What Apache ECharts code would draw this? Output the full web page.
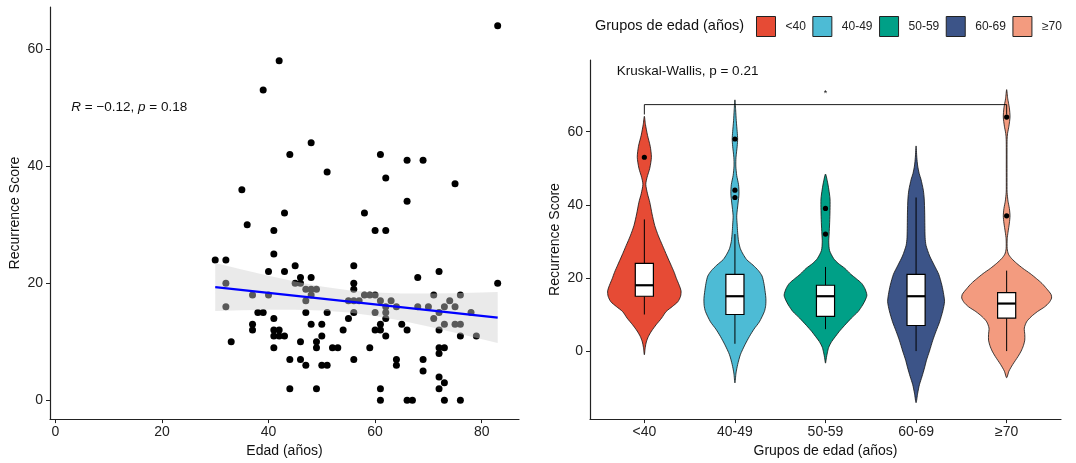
<!DOCTYPE html>
<html><head><meta charset="utf-8">
<script src="https://cdn.jsdelivr.net/npm/echarts@6/dist/echarts.min.js"></script>
<style>html,body{margin:0;padding:0;background:#fff}#c{width:1076px;height:463px}</style>
</head><body><div id="c"></div>
<script>
const FONT = '"Liberation Sans", Arial, Helvetica, sans-serif';

// ---------- Left panel: scatter (age vs score) ----------
const ages = [83,42,39,48,44,61,66,69,51,62,75,35,66,43,58,36,41,60,62,41,30,32,45,56,40,43,72,46,48,68,
  32,45,46,56,83,47,48,49,56,37,40,48,58,59,60,71,76,47,55,56,57,61,63,74,32,62,64,68,70,73,75,
  38,39,47,51,56,60,62,72,78,41,55,62,71,37,48,50,61,65,73,75,76,37,41,42,54,60,61,66,72,
  41,42,43,50,62,76,79,33,46,49,41,49,52,53,59,72,73,72,44,46,56,64,69,47,50,51,64,69,72,73,
  44,49,61,72,61,66,67,73,76];
const scores = [64,58,53,44,42,42,41,41,39,38,37,36,34,32,32,30,29,29,29,25,24,24,23,23,22,22,22,21,21,21,
  20,20,20,20,20,19,19,19,19,18,18,18,18,18,18,18,18,17,17,17,17,17,17,17,16,16,16,16,16,16,16,
  15,15,15,15,15,15,15,15,15,14,14,14,14,13,13,13,13,13,13,13,13,12,12,12,12,12,12,12,12,
  11,11,11,11,11,11,11,10,10,10,9,9,9,9,9,9,9,8,7,7,7,7,7,6,6,6,6,5,4,3,
  2,2,2,2,0,0,0,0,0];
const fitAge = [30, 83];
const fitScore = [19.35, 14.15];
const bandAge = [30,35,40,45,50,55,60,65,70,75,83];
const bandLower = [15.25,15.38,15.46,15.46,15.34,15.0,14.41,13.59,12.62,11.57,9.8];
const bandUpper = [23.45,22.34,21.28,20.3,19.44,18.8,18.41,18.25,18.24,18.31,18.5];
const leftXTicks = [0,20,40,60,80];
const leftYTicks = [0,20,40,60];

// ---------- Right panel: violins ----------
const groups = ['<40','40-49','50-59','60-69','\u226570'];
const groupColors = ['#E64B35','#4DBBD5','#00A087','#3C5488','#F39B7F'];
// violin outlines: [score, half width in category units]
const violin1 = [[64.2,0],[62,0.012],[59,0.035],[56,0.065],[53,0.078],[50,0.06],[47.5,0.03],[45.6,0.016],[43,0.035],[40.7,0.06],[37.5,0.085],[34.3,0.115],[31.5,0.155],[28.9,0.2],[26,0.25],[23.5,0.295],[21.5,0.33],[19.8,0.355],[18,0.385],[16.5,0.405],[15,0.4],[13.5,0.37],[12.2,0.31],[10.8,0.24],[9,0.19],[7.2,0.13],[5.5,0.08],[4,0.045],[2.5,0.022],[1,0.01],[-1,0]];
const violin2 = [[68.7,0],[66,0.008],[63,0.015],[60,0.025],[58,0.03],[56,0.025],[53,0.012],[50.6,0.01],[48,0.02],[45.5,0.04],[43,0.045],[40.5,0.035],[37,0.02],[34.5,0.025],[32.5,0.03],[30,0.04],[28,0.06],[26.5,0.09],[25,0.13],[23.5,0.2],[22,0.26],[20.5,0.3],[18.5,0.32],[16,0.335],[14.4,0.342],[12.5,0.34],[10.8,0.325],[8,0.27],[6,0.21],[4,0.16],[1.7,0.11],[-1,0.06],[-3.7,0.03],[-6,0.012],[-8.7,0]];
const violin3 = [[48.4,0],[46.5,0.02],[44.3,0.036],[41.6,0.05],[38.5,0.05],[35.2,0.046],[32,0.04],[29.8,0.036],[27.5,0.045],[25.3,0.09],[24,0.14],[22.6,0.215],[21,0.28],[19.8,0.34],[18.5,0.4],[17.1,0.435],[15.3,0.457],[14,0.44],[12.6,0.41],[10.8,0.36],[9,0.285],[7,0.21],[5.3,0.15],[4,0.11],[2.6,0.068],[1,0.035],[-0.5,0.02],[-1.8,0.01],[-3.3,0]];
const violin4 = [[56.1,0],[53,0.008],[50.6,0.018],[48.5,0.035],[47,0.054],[44,0.08],[41.6,0.09],[38,0.095],[34.3,0.097],[31,0.1],[28.9,0.11],[26,0.15],[23.5,0.2],[21,0.25],[18,0.285],[15.5,0.305],[13.5,0.314],[11,0.295],[8,0.26],[5.4,0.22],[3,0.185],[0,0.148],[-2.5,0.115],[-4.6,0.093],[-7,0.065],[-9.2,0.037],[-11.5,0.018],[-14.1,0]];
const violin5 = [[71.5,0],[69,0.012],[66.5,0.03],[64,0.037],[61.5,0.025],[59.5,0.01],[57.9,0.005],[55,0.004],[50,0.004],[45,0.004],[43.4,0.005],[41,0.015],[39,0.03],[37,0.037],[35,0.03],[32.5,0.015],[30.7,0.006],[28,0.006],[26.5,0.02],[25.3,0.055],[24,0.11],[22.6,0.18],[21.2,0.26],[19.8,0.33],[18.5,0.39],[17.1,0.44],[15.5,0.49],[14.5,0.496],[13.3,0.47],[12.1,0.42],[10.8,0.34],[9.4,0.27],[8,0.22],[6.3,0.195],[4.5,0.2],[3,0.2],[1.5,0.185],[0,0.16],[-1.5,0.125],[-3.7,0.066],[-5.5,0.025],[-7.3,0]];
const violins = [violin1, violin2, violin3, violin4, violin5];
const boxMin = [10, 2, 6, 0, 0];
const boxQ1 = [15, 10, 9.5, 7, 9];
const boxMedian = [18, 15, 15, 15, 13];
const boxQ3 = [24, 21, 18, 21, 16];
const boxMax = [36, 32, 23, 42, 22];
const outliers = [[53], [58, 44, 42], [39, 32], [], [64, 37]];
const rightYTicks = [0,20,40,60];
const bracketX = [1, 1, 5, 5];
const bracketY = [64.7, 67.4, 67.4, 64.7];

const axisText = { color: '#222', fontSize: 14, fontFamily: FONT };
const nameText = { color: '#111', fontSize: 14, fontFamily: FONT };

function violinRender(g) {
  return function (params, api) {
    const pos = g + 1;
    const o = violins[g];
    const right = o.map(p => api.coord([pos + p[1], p[0]]));
    const left = o.slice(1, o.length - 1).reverse().map(p => api.coord([pos - p[1], p[0]]));
    const children = [{
      type: 'polygon',
      shape: { points: right.concat(left), smooth: 0.25 },
      style: { fill: groupColors[g], stroke: '#111', lineWidth: 0.8 }
    }];
    const hw = 0.1;
    const pMin = api.coord([pos, boxMin[g]]), pQ1 = api.coord([pos, boxQ1[g]]);
    const pQ3 = api.coord([pos, boxQ3[g]]), pMax = api.coord([pos, boxMax[g]]);
    children.push({ type: 'line', shape: { x1: pMin[0], y1: pMin[1], x2: pQ1[0], y2: pQ1[1] }, style: { stroke: '#000', lineWidth: 1 } });
    children.push({ type: 'line', shape: { x1: pQ3[0], y1: pQ3[1], x2: pMax[0], y2: pMax[1] }, style: { stroke: '#000', lineWidth: 1 } });
    const tl = api.coord([pos - hw, boxQ3[g]]), br = api.coord([pos + hw, boxQ1[g]]);
    children.push({ type: 'rect', shape: { x: tl[0], y: tl[1], width: br[0] - tl[0], height: br[1] - tl[1] }, style: { fill: '#fff', stroke: '#000', lineWidth: 1.2 } });
    const m1 = api.coord([pos - hw, boxMedian[g]]), m2 = api.coord([pos + hw, boxMedian[g]]);
    children.push({ type: 'line', shape: { x1: m1[0], y1: m1[1], x2: m2[0], y2: m2[1] }, style: { stroke: '#000', lineWidth: 2.2 } });
    outliers[g].forEach(v => {
      const c = api.coord([pos, v]);
      children.push({ type: 'circle', shape: { cx: c[0], cy: c[1], r: 2.6 }, style: { fill: '#000' } });
    });
    return { type: 'group', children };
  };
}

const chart = echarts.init(document.getElementById('c'), null, { renderer: 'canvas' });

const series = [
  {
    type: 'scatter', xAxisIndex: 0, yAxisIndex: 0, symbolSize: 7, z: 2,
    itemStyle: { color: '#000', opacity: 1 },
    data: ages.map((a, i) => [a, scores[i]]), silent: true
  },
  {
    type: 'custom', xAxisIndex: 0, yAxisIndex: 0, z: 3, silent: true,
    data: [[bandAge[0], bandLower[0]]],
    renderItem: function (params, api) {
      const up = bandAge.map((a, i) => api.coord([a, bandUpper[i]]));
      const lo = bandAge.map((a, i) => api.coord([a, bandLower[i]])).reverse();
      return { type: 'polygon', shape: { points: up.concat(lo) }, style: { fill: 'rgb(206,206,206)', opacity: 0.43 } };
    }
  },
  {
    type: 'line', xAxisIndex: 0, yAxisIndex: 0, z: 4, symbol: 'none', silent: true,
    lineStyle: { color: '#0000FF', width: 2.2 },
    data: fitAge.map((a, i) => [a, fitScore[i]])
  },
  {
    type: 'custom', xAxisIndex: 0, yAxisIndex: 0, z: 5, silent: true,
    data: [[3, 50]],
    renderItem: function (params, api) {
      const c = api.coord([api.value(0), api.value(1)]);
      return { type: 'text', x: c[0], y: c[1], style: {
        text: '{i|R} = \u22120.12, {i|p} = 0.18', fill: '#111', fontSize: 13.5, fontFamily: FONT,
        align: 'left', verticalAlign: 'middle',
        rich: { i: { fontStyle: 'italic', fontSize: 13.5, fontFamily: FONT, fill: '#111' } }
      } };
    }
  }
];

groups.forEach((name, g) => {
  series.push({
    type: 'custom', name: name, xAxisIndex: 1, yAxisIndex: 1, z: 2, silent: true,
    itemStyle: { color: groupColors[g] },
    data: [[g + 1, boxMedian[g]]],
    renderItem: violinRender(g)
  });
});

series.push({
  type: 'line', xAxisIndex: 1, yAxisIndex: 1, z: 6, symbol: 'none', silent: true,
  lineStyle: { color: '#000', width: 0.9 },
  data: bracketX.map((x, i) => [x, bracketY[i]])
});
const notes = [[3, 70.3, '*', 9, 'center'], [0.695, 76.4, 'Kruskal-Wallis, p = 0.21', 13.5, 'left']];
series.push({
  type: 'custom', xAxisIndex: 1, yAxisIndex: 1, z: 7, silent: true,
  data: notes.map(n => [n[0], n[1]]),
  renderItem: function (params, api) {
    const item = notes[params.dataIndex];
    const c = api.coord([item[0], item[1]]);
    return { type: 'text', x: c[0], y: c[1], style: { text: item[2], fontSize: item[3], fontFamily: FONT, fill: '#111', align: item[4], verticalAlign: 'middle' } };
  }
});

const option = {
  animation: false,
  backgroundColor: '#fff',
  grid: [
    { left: 50, top: 7, width: 469, height: 414 },
    { left: 590, top: 60, width: 471, height: 361 }
  ],
  xAxis: [
    {
      type: 'value', gridIndex: 0, min: -1, max: 87,
      name: 'Edad (a\u00f1os)', nameLocation: 'middle', nameGap: 23, nameTextStyle: nameText,
      axisLine: { onZero: false, lineStyle: { color: '#222', width: 1.2 } },
      axisTick: { show: true, length: 4, customValues: leftXTicks, lineStyle: { color: '#222' } },
      axisLabel: Object.assign({ margin: 6, customValues: leftXTicks }, axisText),
      splitLine: { show: false }
    },
    {
      type: 'value', gridIndex: 1, min: 0.4, max: 5.6,
      name: 'Grupos de edad (a\u00f1os)', nameLocation: 'middle', nameGap: 23, nameTextStyle: nameText,
      axisLine: { onZero: false, lineStyle: { color: '#222', width: 1.2 } },
      axisTick: { show: true, length: 4, customValues: [1, 2, 3, 4, 5], lineStyle: { color: '#222' } },
      axisLabel: Object.assign({ margin: 6, customValues: [1, 2, 3, 4, 5], formatter: v => groups[Math.round(v) - 1] || '' }, axisText),
      splitLine: { show: false }
    }
  ],
  yAxis: [
    {
      type: 'value', gridIndex: 0, min: -3.2, max: 67.2,
      name: 'Recurrence Score', nameLocation: 'middle', nameGap: 28, nameTextStyle: nameText,
      axisLine: { show: true, onZero: false, lineStyle: { color: '#222', width: 1.2 } },
      axisTick: { show: true, length: 4, customValues: leftYTicks, lineStyle: { color: '#222' } },
      axisLabel: Object.assign({ margin: 7, customValues: leftYTicks }, axisText),
      splitLine: { show: false }
    },
    {
      type: 'value', gridIndex: 1, min: -18.6, max: 79.6,
      name: 'Recurrence Score', nameLocation: 'middle', nameGap: 28, nameTextStyle: nameText,
      axisLine: { show: true, onZero: false, lineStyle: { color: '#222', width: 1.2 } },
      axisTick: { show: true, length: 4, customValues: rightYTicks, lineStyle: { color: '#222' } },
      axisLabel: Object.assign({ margin: 7, customValues: rightYTicks }, axisText),
      splitLine: { show: false }
    }
  ],
  legend: {
    data: groups, left: 756, top: 16, width: 400, padding: 0, orient: 'horizontal', selectedMode: false,
    icon: 'rect', itemWidth: 19, itemHeight: 20, itemGap: 6.5,
    itemStyle: { borderColor: '#222', borderWidth: 1 },
    textStyle: { color: '#222', fontSize: 12, fontFamily: FONT, padding: [0, 0, 0, 5] }
  },
  graphic: [
    { type: 'text', left: 595, top: 18, style: { text: 'Grupos de edad (a\u00f1os)', fontSize: 14.5, fontFamily: FONT, fill: '#111' } }
  ],
  series: series
};
chart.setOption(option);
</script>
</body></html>
